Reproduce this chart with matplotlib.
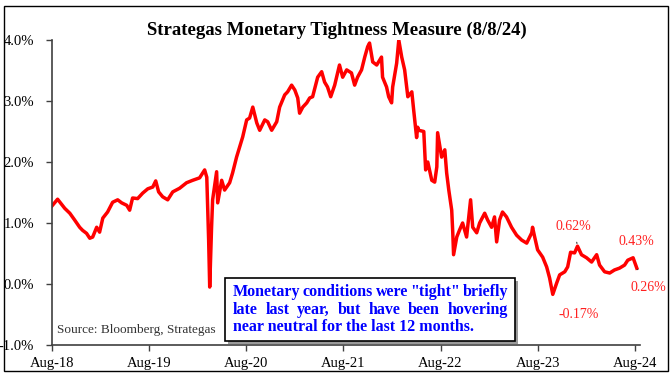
import matplotlib
matplotlib.use('Agg')
import matplotlib.pyplot as plt
import matplotlib.dates as mdates
from matplotlib.patches import Rectangle
import pandas as pd

# Monetary tightness measure (%)
dates = [
    '2018-08-01', '2018-08-22', '2018-09-18', '2018-10-07', '2018-10-25', '2018-11-13',
    '2018-11-24', '2018-12-09', '2018-12-21', '2019-01-01', '2019-01-16', '2019-01-27',
    '2019-02-08', '2019-02-26', '2019-03-17', '2019-04-05', '2019-04-20', '2019-05-09',
    '2019-05-20', '2019-05-31', '2019-06-19', '2019-07-08', '2019-07-27', '2019-08-15',
    '2019-08-26', '2019-09-06', '2019-09-21', '2019-10-10', '2019-10-29', '2019-11-24',
    '2019-12-20', '2020-01-12', '2020-02-07', '2020-02-26', '2020-03-05', '2020-03-12',
    '2020-03-16', '2020-03-23', '2020-03-27', '2020-04-11', '2020-04-15', '2020-04-30',
    '2020-05-11', '2020-05-30', '2020-06-10', '2020-06-25', '2020-07-07', '2020-07-18',
    '2020-08-02', '2020-08-13', '2020-08-25', '2020-09-09', '2020-09-20', '2020-10-09',
    '2020-10-20', '2020-11-04', '2020-11-23', '2020-12-04', '2020-12-23', '2021-01-03',
    '2021-01-18', '2021-01-30', '2021-02-10', '2021-02-17', '2021-03-01', '2021-03-16',
    '2021-03-27', '2021-04-07', '2021-04-26', '2021-05-11', '2021-05-22', '2021-06-02',
    '2021-06-14', '2021-06-29', '2021-07-17', '2021-07-29', '2021-08-13', '2021-08-31',
    '2021-09-12', '2021-09-23', '2021-10-08', '2021-10-20', '2021-10-31', '2021-11-07',
    '2021-11-19', '2021-12-04', '2021-12-22', '2021-12-26', '2022-01-10', '2022-01-18',
    '2022-01-29', '2022-02-02', '2022-02-17', '2022-02-25', '2022-03-08', '2022-03-19',
    '2022-03-31', '2022-04-15', '2022-04-22', '2022-05-03', '2022-05-07', '2022-05-11',
    '2022-05-30', '2022-06-06', '2022-06-14', '2022-06-29', '2022-07-10', '2022-07-18',
    '2022-07-21', '2022-08-05', '2022-08-17', '2022-08-24', '2022-09-01', '2022-09-12',
    '2022-09-16', '2022-09-19', '2022-10-01', '2022-10-12', '2022-10-23', '2022-11-07',
    '2022-11-22', '2022-11-30', '2022-12-15', '2022-12-26', '2023-01-14', '2023-01-25',
    '2023-02-09', '2023-02-20', '2023-02-28', '2023-03-11', '2023-03-22', '2023-04-06',
    '2023-04-25', '2023-05-14', '2023-06-02', '2023-06-21', '2023-07-10', '2023-07-13',
    '2023-07-21', '2023-08-01', '2023-08-20', '2023-09-04', '2023-09-15', '2023-09-27',
    '2023-10-12', '2023-10-23', '2023-11-11', '2023-11-22', '2023-12-03', '2023-12-18',
    '2023-12-29', '2024-01-13', '2024-02-01', '2024-02-20', '2024-03-10', '2024-03-21',
    '2024-04-09', '2024-04-28', '2024-05-16', '2024-06-04', '2024-06-23', '2024-07-05',
    '2024-07-25', '2024-08-08',
]
values = [
    1.28, 1.39, 1.24, 1.16, 1.05, 0.93,
    0.88, 0.83, 0.75, 0.77, 0.93, 0.85,
    1.08, 1.18, 1.34, 1.38, 1.33, 1.29,
    1.21, 1.41, 1.40, 1.49, 1.56, 1.59,
    1.69, 1.51, 1.43, 1.38, 1.51, 1.57,
    1.66, 1.70, 1.74, 1.87, 1.75, 0.72,
    -0.05, 0.93, 1.38, 1.84, 1.33, 1.70,
    1.54, 1.66, 1.82, 2.08, 2.25, 2.41,
    2.69, 2.72, 2.90, 2.64, 2.52, 2.69,
    2.66, 2.52, 2.66, 2.90, 3.10, 3.15,
    3.26, 3.18, 3.05, 2.80, 2.90, 2.97,
    3.05, 3.07, 3.39, 3.48, 3.31, 3.23,
    3.07, 3.26, 3.59, 3.39, 3.51, 3.46,
    3.26, 3.39, 3.51, 3.72, 3.89, 3.95,
    3.64, 3.59, 3.72, 3.39, 3.23, 3.07,
    2.97, 3.23, 3.62, 4.00, 3.72, 3.51,
    3.07, 3.15, 2.85, 2.40, 2.57, 2.52,
    2.50, 1.87, 2.00, 1.70, 1.67, 1.92,
    2.48, 2.08, 2.20, 1.82, 1.54, 1.21,
    0.84, 0.48, 0.77, 0.89, 1.00, 0.77,
    1.38, 0.93, 0.84, 1.00, 1.16, 1.05,
    0.93, 1.10, 0.69, 1.05, 1.18, 1.10,
    0.93, 0.80, 0.72, 0.67, 0.84, 0.93,
    0.77, 0.56, 0.44, 0.28, 0.10, -0.17,
    0.02, 0.15, 0.20, 0.28, 0.52, 0.51,
    0.62, 0.48, 0.43, 0.36, 0.48, 0.31,
    0.20, 0.18, 0.23, 0.26, 0.31, 0.39,
    0.43, 0.26,
]

# labelled points: (date, value, label)
callouts = [
    ('2023-12-29', 0.62, '0.62%'),
    ('2023-09-27', -0.17, '-0.17%'),
    ('2024-07-25', 0.43, '0.43%'),
    ('2024-08-08', 0.26, '0.26%'),
]

tick_years = [2018, 2019, 2020, 2021, 2022, 2023, 2024]
y_ticks = [-1, 0, 1, 2, 3, 4]

title = 'Strategas Monetary Tightness Measure (8/8/24)'
source = 'Source: Bloomberg, Strategas'
note_lines = [
    'Monetary conditions were "tight" briefly',
    'late last year, but have been hovering',
    'near neutral for the last 12 months.',
]

plt.rcParams['font.family'] = ['Liberation Serif', 'DejaVu Serif']

W, H = 672, 375
fig = plt.figure(figsize=(W / 100, H / 100), dpi=100)


def fx(x):
    return x / W


def fy(y):
    # y measured from the top of the image
    return 1 - y / H


# outer frame
fig.patches.append(Rectangle((fx(4), fy(371)), fx(664), 365 / H, transform=fig.transFigure,
                             fill=False, edgecolor='black', linewidth=1.0))

ax = fig.add_axes([fx(52), fy(345), fx(588), (345 - 40) / H])

series = pd.Series(values, index=pd.to_datetime(dates))
ax.plot(series.index, series.values, color='#ff0000', linewidth=2.5, solid_joinstyle='round')

ax.set_ylim(-1, 4)
ax.set_xlim(pd.Timestamp('2018-08-01'), pd.Timestamp('2024-08-20'))
ax.set_yticks(y_ticks)
ax.set_yticklabels([f'{v:.1f}%' for v in y_ticks])
ax.set_xticks([pd.Timestamp(f'{y}-08-01') for y in tick_years])
ax.xaxis.set_major_formatter(mdates.DateFormatter('Aug-%y'))

for side in ['top', 'right']:
    ax.spines[side].set_visible(False)
for side in ['left', 'bottom']:
    ax.spines[side].set_color('#404040')
    ax.spines[side].set_linewidth(1.2)
ax.tick_params(axis='both', colors='#404040', length=4, width=1.0, labelsize=10.5,
               labelcolor='black')
ax.tick_params(axis='y', pad=9)
ax.tick_params(axis='x', pad=5)

fig.text(fx(337), fy(30), title, ha='center', va='center', fontsize=13.5, fontweight='bold')
fig.text(fx(57), fy(330), source, ha='left', va='center', fontsize=9.5, color='#333333')

# callout labels
red = '#ff2020'
c = {lab: (pd.Timestamp(d), v) for d, v, lab in callouts}
ax.annotate('0.62%', xy=c['0.62%'], xytext=(-4, 20), textcoords='offset pixels',
            ha='center', va='center', color=red, fontsize=10,
            arrowprops=dict(arrowstyle='-', color='#333333', lw=0.8, shrinkA=5, shrinkB=2))
ax.annotate('-0.17%', xy=c['-0.17%'], xytext=(26, -20), textcoords='offset pixels',
            ha='center', va='center', color=red, fontsize=10)
ax.annotate('0.43%', xy=c['0.43%'], xytext=(3, 16), textcoords='offset pixels',
            ha='center', va='center', color=red, fontsize=10)
ax.annotate('0.26%', xy=c['0.26%'], xytext=(12, -19), textcoords='offset pixels',
            ha='center', va='center', color=red, fontsize=10,
            arrowprops=dict(arrowstyle='-', color='#333333', lw=0.8, shrinkA=7, shrinkB=1))

# note box with shadow
bx0, by0, bx1, by1 = 225, 278, 515, 341
fig.patches.append(Rectangle((fx(bx0 + 3), fy(by1 + 3)), fx(bx1 - bx0), (by1 - by0) / H,
                             transform=fig.transFigure, facecolor='#9a9a9a', edgecolor='none',
                             zorder=5))
fig.patches.append(Rectangle((fx(bx0), fy(by1)), fx(bx1 - bx0), (by1 - by0) / H,
                             transform=fig.transFigure, facecolor='white', edgecolor='black',
                             linewidth=1.2, zorder=6))

# justified text: spread words over the box width, last line left aligned
renderer = fig.canvas.get_renderer()
left, right = 233, 508
style = dict(va='center', fontsize=11.5, fontweight='bold', color='#0000ff', zorder=7)
for i, line in enumerate(note_lines):
    y = fy(292 + i * 17.5)
    if i == len(note_lines) - 1:
        fig.text(fx(left), y, line, ha='left', **style)
        continue
    words = line.split()
    texts = [fig.text(0, y, w, ha='left', **style) for w in words]
    widths = [t.get_window_extent(renderer).width for t in texts]
    gap = (right - left - sum(widths)) / (len(words) - 1)
    x = left
    for t, w in zip(texts, widths):
        t.set_x(fx(x))
        x += w + gap

fig.savefig('out.png', dpi=100)
